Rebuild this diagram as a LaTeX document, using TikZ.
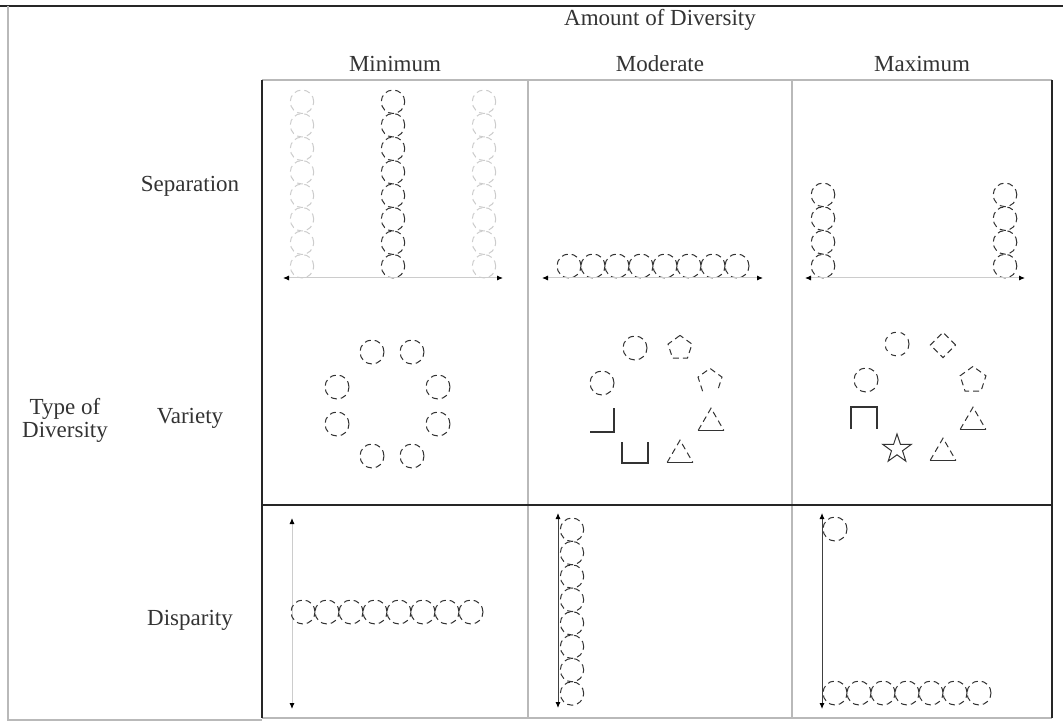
\documentclass[tikz,border=0pt]{standalone}
\usepackage{fontspec}
\setmainfont{Liberation Serif}
\usetikzlibrary{arrows.meta}
\tikzset{
  thin rule/.style={draw=gray!55, line width=0.7pt},
  thick rule/.style={draw=black!85, line width=1.3pt},
  ring/.style={draw=black!80, densely dashed, line width=0.5pt},
  pale ring/.style={draw=gray!40, densely dashed, line width=0.5pt},
  edge line/.style={draw=black!80, line width=0.8pt},
  axis/.style={draw=gray!40, line width=0.5pt, {Latex[length=3pt,width=2.6pt,color=black]}-{Latex[length=3pt,width=2.6pt,color=black]}},
  dark axis/.style={axis, draw=black!75},
  lbl/.style={font=\fontsize{11.5}{11.5}\selectfont, text=black!80, align=center}
}
\newcommand\pentagon[3]{\draw[ring] (#1,#2) +(90:#3) -- +(162:#3) -- +(234:#3) -- +(306:#3) -- +(18:#3) -- cycle;}
\newcommand\triang[2]{\draw[ring] (#1,#2) +(210:7.4pt) -- +(90:7.4pt) -- +(330:7.4pt);
  \draw[edge line] (#1,#2) +(210:7.4pt) -- +(330:7.4pt);}

\begin{document}
\begin{tikzpicture}[x=0.5pt,y=-0.5pt]
\useasboundingbox (0,0) rectangle (1063,726);
\draw[thick rule] (0,6) -- (1063,6);
\draw[thin rule] (8,6) -- (8,720) -- (262,720);
\draw[thin rule] (262,80) -- (1052,80) (528,80) -- (528,718) (792,80) -- (792,718) (262,718) -- (1052,718);
\draw[thick rule] (262,80) -- (262,718) (1052,80) -- (1052,718) (262,505) -- (1052,505);

\node[lbl] (amount) at (660,20) {Amount of Diversity};
\node[lbl] (minimum) at (395,64) {Minimum};
\node[lbl] (moderate) at (660,64) {Moderate};
\node[lbl] (maximum) at (922,64) {Maximum};
\node[lbl] (separation) at (190,186) {Separation};
\node[lbl] (variety) at (190,418) {Variety};
\node[lbl] (disparity) at (190,620) {Disparity};
\node[lbl] (typediv) at (65,420) {Type of\\Diversity};

\foreach \cx/\st in {302/pale ring, 393/ring, 484/pale ring}
  \foreach \k in {0,...,7} \draw[\st] (\cx,266.25-23.5*\k) circle[radius=5.87pt];
\draw[axis] (283,278) -- (503,278);
\foreach \k in {0,...,7} \draw[ring] (569+24*\k,266) circle[radius=6pt];
\draw[axis] (542,278) -- (763,278);
\foreach \cx in {823,1005}
  \foreach \k in {0,...,3} \draw[ring] (\cx,266.1-23.75*\k) circle[radius=5.9pt];
\draw[axis] (805,278) -- (1025,278);

\foreach \p in {(372,352),(412,352),(337,387),(438,387),(337,424),(438,424),(372,456),(412,456)}
  \draw[ring] \p circle[radius=6pt];

\draw[ring] (635,348) circle[radius=6pt];
\pentagon{680}{348}{6.3pt}
\draw[ring] (602,383) circle[radius=6pt];
\draw[ring] (710,381) +(234:6.3pt) -- +(162:6.3pt) -- +(90:6.3pt) -- +(18:6.3pt) -- +(306:6.3pt);
\draw[edge line] (590,432) -- (614,432) -- (614,408);
\triang{711}{423}
\draw[edge line] (622,442) -- (622,463) -- (648,463) -- (648,442);
\triang{680}{455}

\draw[ring, dash pattern=on 2.5pt off 2.5pt] (897,344) circle[radius=6pt];
\draw[ring] (943,345) +(0:6.3pt) -- +(90:6.3pt) -- +(180:6.3pt) -- +(270:6.3pt) -- cycle;
\draw[ring] (866,380) circle[radius=6pt];
\pentagon{973}{380}{6.8pt}
\draw[edge line] (851,429) -- (851,407) -- (877,407) -- (877,429);
\triang{973}{422}
\draw[black!80, line width=0.5pt] (897,449) +(90:7.5pt) -- +(126:2.9pt) -- +(162:7.5pt) -- +(198:2.9pt) -- +(234:7.5pt) -- +(270:2.9pt) -- +(306:7.5pt) -- +(342:2.9pt) -- +(18:7.5pt) -- +(54:2.9pt) -- cycle;
\triang{943}{453}

\draw[axis] (292,518) -- (292,709);
\foreach \k in {0,...,7} \draw[ring] (303+24*\k,612) circle[radius=6pt];
\draw[dark axis] (558,513) -- (558,708);
\foreach \k in {0,...,7} \draw[ring] (572,529.7+23.4*\k) circle[radius=5.85pt];
\draw[dark axis] (822,513) -- (822,709);
\draw[ring] (835,529) circle[radius=6pt];
\foreach \k in {0,...,6} \draw[ring] (835+24*\k,693) circle[radius=6pt];
\end{tikzpicture}
\end{document}
